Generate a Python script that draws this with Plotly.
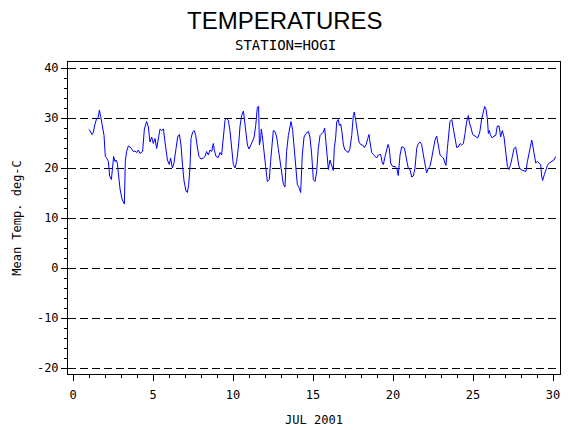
import plotly.graph_objects as go

# Day of July 2001 (fractional) and mean temperature (deg C)
days = [
    0.98, 1.06, 1.19, 1.27, 1.375, 1.48, 1.58, 1.65, 1.73, 1.81, 1.94, 2.02, 2.10, 2.21, 2.29, 2.40,
    2.48, 2.54, 2.625, 2.69, 2.77, 2.83, 2.94, 3.06, 3.21, 3.27, 3.35, 3.46, 3.56, 3.67, 3.77, 3.875,
    3.98, 4.08, 4.19, 4.35, 4.46, 4.60, 4.71, 4.81, 4.92, 5.02, 5.125, 5.23, 5.375,
    5.44, 5.54, 5.65, 5.75, 5.90, 6.02, 6.10, 6.21, 6.31, 6.44, 6.54, 6.65, 6.75, 6.85, 6.94, 7.06,
    7.15, 7.23, 7.31, 7.375, 7.48, 7.58, 7.67, 7.77, 7.875, 8.0, 8.15, 8.25, 8.35, 8.46, 8.56, 8.67,
    8.77, 8.83, 8.94, 9.08, 9.19, 9.29, 9.40, 9.50, 9.60, 9.71, 9.81, 9.92, 10.02, 10.125, 10.23, 10.35,
    10.44, 10.54, 10.65, 10.71, 10.81, 10.90, 11.0, 11.10, 11.21, 11.31, 11.42, 11.52, 11.60, 11.65,
    11.73, 11.77, 11.83, 11.94, 12.04, 12.15, 12.27, 12.35, 12.44, 12.52, 12.625, 12.73, 12.83, 12.94,
    13.04, 13.15, 13.25, 13.35, 13.46, 13.56, 13.625, 13.73, 13.83, 13.94, 14.02, 14.125, 14.23, 14.33,
    14.44, 14.56, 14.71, 14.81, 14.92, 15.02, 15.125, 15.23, 15.33,
    15.44, 15.54, 15.65, 15.73, 15.79, 15.85, 15.96, 16.06, 16.17, 16.27, 16.33, 16.42, 16.48, 16.58,
    16.65, 16.73, 16.81, 16.90, 17.0, 17.10, 17.21, 17.31, 17.42, 17.52, 17.58, 17.67, 17.77, 17.875,
    17.98, 18.10, 18.21, 18.31, 18.42, 18.50, 18.56, 18.67, 18.77, 18.875, 18.98, 19.08, 19.23, 19.33,
    19.40, 19.50, 19.60, 19.69, 19.77, 19.85, 19.98, 20.125, 20.23, 20.33, 20.44, 20.54, 20.65, 20.73,
    20.85, 20.96, 21.06, 21.17, 21.27, 21.375, 21.48, 21.58, 21.69, 21.79, 21.9, 22.0, 22.1, 22.21,
    22.31, 22.42, 22.52, 22.625, 22.73, 22.83, 22.94, 23.04, 23.15, 23.25, 23.31, 23.40, 23.5, 23.56,
    23.67, 23.77, 23.875, 23.98, 24.08, 24.19, 24.29, 24.40, 24.5, 24.6, 24.71, 24.77, 24.875, 24.98,
    25.125, 25.29, 25.40,
    25.44, 25.54, 25.65, 25.73, 25.81, 25.90, 25.96, 26.02, 26.10, 26.21, 26.31, 26.42, 26.52, 26.625,
    26.73, 26.83, 26.94, 27.0, 27.06, 27.15, 27.25, 27.35, 27.46, 27.56, 27.67, 27.77, 27.875, 27.98,
    28.15, 28.31, 28.40, 28.46, 28.56, 28.67, 28.73, 28.81, 28.92, 29.02, 29.125, 29.23, 29.29, 29.35,
    29.46, 29.56, 29.67, 29.77, 29.92, 30.06, 30.17,
]

temps = [
    27.7, 27.5, 26.7, 27.1, 28.8, 29.9, 30.1, 31.6, 30.3, 28.5, 26.5, 22.3, 22.0, 21.3, 18.4, 17.7,
    21.3, 22.3, 21.3, 21.6, 21.0, 18.7, 15.8, 13.8, 12.8, 21.3, 23.3, 24.4, 24.2, 23.8, 23.3, 23.4,
    23.1, 23.6, 22.9, 23.3, 27.8, 29.3, 28.2, 25.2, 26.2, 24.9, 25.9, 23.9, 27.2,
    27.8, 27.5, 27.8, 25.2, 21.6, 20.7, 22.0, 20.0, 21.0, 23.9, 26.2, 26.7, 24.6, 20.3, 17.4, 15.4,
    15.1, 16.7, 20.0, 25.9, 27.2, 27.5, 26.5, 24.2, 22.3, 21.8, 22.0, 22.3, 23.3, 22.6, 23.6, 23.3,
    24.9, 23.6, 22.3, 22.1, 23.1, 22.6, 27.2, 29.5, 30.0, 29.5, 27.5, 23.3, 20.7, 20.0, 21.3, 24.6,
    28.4, 30.5, 31.4, 29.8, 26.2, 24.6, 23.8, 24.6, 25.4, 26.0, 28.5, 32.1, 32.4, 24.6,
    25.9, 27.8, 26.5, 22.6, 20.3, 17.3, 17.7, 21.3, 25.2, 27.5, 27.3, 26.2, 23.9, 21.3,
    18.7, 16.7, 16.2, 23.3, 26.5, 28.5, 29.3, 27.5, 23.9, 20.0, 16.7, 16.1, 15.1, 22.6,
    26.2, 26.9, 27.3, 26.2, 22.6, 17.7, 17.3, 19.3, 23.9,
    26.5, 26.9, 27.2, 28.0, 26.2, 23.9, 19.7, 21.6, 20.7, 19.5, 23.9, 26.2, 29.2, 29.7,
    28.5, 28.8, 27.2, 24.6, 23.6, 23.4, 23.1, 23.9, 26.5, 30.5, 31.2, 29.5, 27.2, 25.2,
    24.7, 24.6, 24.1, 24.6, 25.9, 26.7, 25.2, 23.1, 22.7, 22.3, 22.0, 22.6, 22.7, 21.0,
    20.7, 22.3, 23.6, 24.7, 23.9, 21.0, 20.3, 20.3, 20.0, 18.5, 22.6, 24.2, 24.2, 23.8,
    21.6, 19.9, 19.7, 18.2, 18.4, 20.0, 23.9, 24.9, 25.2, 24.7, 22.6, 20.3, 19.0, 20.0,
    20.3, 22.0, 24.1, 25.6, 26.4, 24.9, 22.6, 22.3, 22.0, 21.0, 20.5, 23.9, 27.5, 29.3,
    29.7, 27.8, 26.2, 24.1, 24.2, 24.9, 24.6, 24.9, 26.9, 29.2, 30.5, 29.2, 28.0, 26.7,
    26.4, 26.0, 26.9,
    27.5, 29.8, 31.1, 32.3, 31.8, 29.8, 26.9, 27.5, 26.5, 26.0, 26.4, 26.5, 28.4, 28.4,
    26.2, 27.5, 26.2, 24.6, 22.3, 20.3, 19.7, 20.7, 22.3, 23.9, 24.2, 22.6, 20.3, 19.7,
    19.5, 19.3, 21.3, 22.3, 23.6, 25.6, 24.6, 22.6, 21.0, 21.3, 21.0, 20.7, 18.4, 17.5,
    18.7, 19.7, 20.7, 21.0, 21.3, 21.6, 22.3,
]

x_ticks = [0, 5, 10, 15, 20, 25, 30]
y_ticks = [-20, -10, 0, 10, 20, 30, 40]

title_text = "TEMPERATURES"
subtitle_text = "STATION=HOGI"
x_title = "JUL 2001"
y_title = "Mean Temp. deg-C"

MONO = "DejaVu Sans Mono, Liberation Mono, monospace"

fig = go.Figure()
fig.add_trace(go.Scatter(
    x=days, y=temps, mode="lines",
    line=dict(color="#0000ff", width=1),
    hoverinfo="skip", showlegend=False,
))

# The page body adds ~8px offset, so the figure is sized/margined to compensate
fig.update_layout(
    width=562, height=422, autosize=False,
    margin=dict(l=60, r=10, t=54, b=56, pad=0),
    paper_bgcolor="white", plot_bgcolor="white",
    font=dict(family=MONO, size=12, color="black"),
    showlegend=False,
)

fig.update_xaxes(
    range=[-0.3125, 30.4375], automargin=False,
    tickmode="array", tickvals=x_ticks, ticktext=[str(v) for v in x_ticks],
    ticks="outside", ticklen=6, tickwidth=1, tickcolor="black",
    ticklabelstandoff=4,
    minor=dict(dtick=1, tick0=0, ticks="outside", ticklen=3, tickcolor="black", showgrid=False),
    showgrid=False, zeroline=False,
    showline=True, linecolor="black", linewidth=1, mirror=True,
    tickfont=dict(family=MONO, size=12),
    title=dict(text=x_title, font=dict(family=MONO, size=12), standoff=14),
)

fig.update_yaxes(
    range=[-21.2, 41.2], automargin=False,
    tickmode="array", tickvals=y_ticks, ticktext=[str(v) for v in y_ticks],
    ticks="outside", ticklen=6, tickwidth=1, tickcolor="black",
    minor=dict(dtick=2, tick0=0, ticks="outside", ticklen=3, tickcolor="black", showgrid=False),
    showgrid=True, gridcolor="black", gridwidth=1, griddash="8px,4px",
    zeroline=False,
    showline=True, linecolor="black", linewidth=1, mirror=True,
    tickfont=dict(family=MONO, size=12),
    title=dict(text=y_title, font=dict(family=MONO, size=12), standoff=12),
)

title_x = (285 - 68) / 492  # titles are centred on the page, not the plot area
fig.add_annotation(
    text=title_text, xref="paper", yref="paper", x=title_x, y=1 + (62 - 20) / 312,
    xanchor="center", yanchor="middle", showarrow=False,
    font=dict(family="Liberation Sans Narrow, Liberation Sans, Arial, sans-serif", size=24, color="black"),
)
fig.add_annotation(
    text=subtitle_text, xref="paper", yref="paper", x=title_x, y=1 + (62 - 45) / 312,
    xanchor="center", yanchor="middle", showarrow=False,
    font=dict(family=MONO, size=14, color="black"),
)

fig.write_html("out.html")
